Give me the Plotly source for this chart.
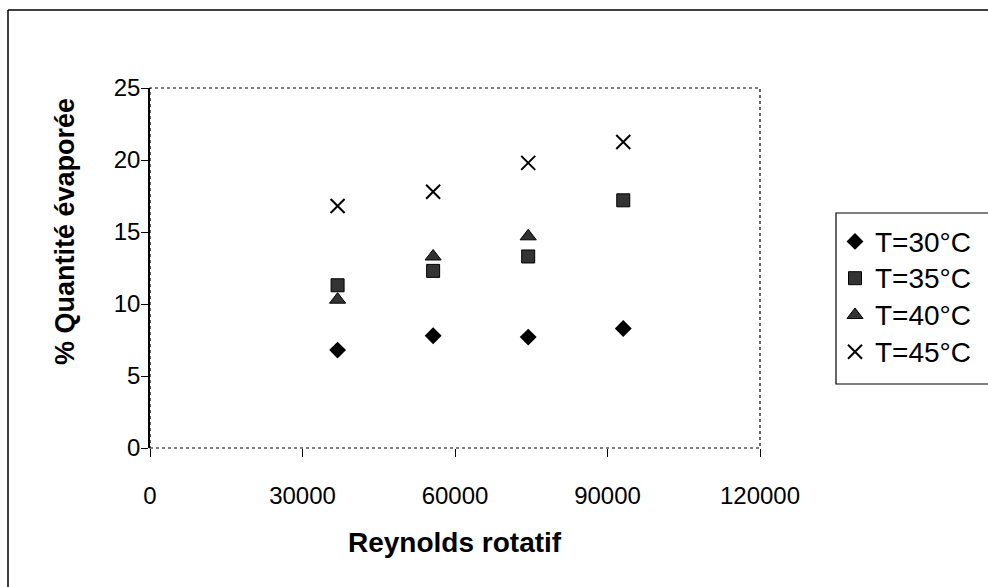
import plotly.graph_objects as go

# Rotational Reynolds number for each run
reynolds = [36900, 55700, 74400, 93100]

# Percentage of evaporated quantity per temperature
t30 = [6.8, 7.8, 7.7, 8.3]
t35 = [11.3, 12.3, 13.3, 17.2]
t40 = [10.3, 13.3, 14.7, None]
t45 = [16.8, 17.8, 19.8, 21.25]

series_names = ["T=30°C", "T=35°C", "T=40°C", "T=45°C"]

x_ticks = [0, 30000, 60000, 90000, 120000]
y_ticks = [0, 5, 10, 15, 20, 25]

FONT = "Liberation Sans, Arial, sans-serif"
W, H = 988, 587
L, R, T, B = 150, 228, 88, 139


def px_x(px):
    return (px - L) / (W - L - R)


def px_y(py):
    return (H - B - py) / (H - T - B)


fig = go.Figure()

styles = [
    dict(symbol="diamond", size=13, color="black", line=dict(color="black", width=0)),
    dict(symbol="square", size=13, color="#333333", line=dict(color="black", width=1)),
    dict(symbol="triangle-up", size=14, color="#333333", line=dict(color="black", width=1)),
    dict(symbol="x-thin-open", size=14, color="black", line=dict(color="black", width=2)),
]

for name, vals, st in zip(series_names, [t30, t35, t40, t45], styles):
    fig.add_trace(go.Scatter(
        x=reynolds, y=vals, mode="markers",
        name='<span style="font-size:28px">' + name + "</span>",
        marker=st,
    ))

# Outer chart frame and plot-area border
shapes = [
    dict(type="line", xref="paper", yref="paper",
         x0=px_x(8), x1=px_x(1000), y0=px_y(10), y1=px_y(10),
         line=dict(color="black", width=1.5)),
    dict(type="line", xref="paper", yref="paper",
         x0=px_x(8), x1=px_x(8), y0=px_y(10), y1=px_y(600),
         line=dict(color="black", width=1.5)),
    dict(type="rect", xref="paper", yref="paper", x0=0, x1=1, y0=0, y1=1,
         line=dict(color="black", width=1.2, dash="dot")),
    # legend box
    dict(type="rect", xref="paper", yref="paper",
         x0=px_x(836), x1=px_x(1005), y0=px_y(384), y1=px_y(213),
         line=dict(color="black", width=1.2), fillcolor="rgba(0,0,0,0)"),
]

annotations = [
    dict(text="<b>Reynolds rotatif</b>", xref="paper", yref="paper",
         x=0.5, y=px_y(542), xanchor="center", yanchor="middle",
         showarrow=False, font=dict(family=FONT, size=28, color="black")),
    dict(text="<b>% Quantité évaporée</b>", xref="paper", yref="paper",
         x=px_x(65), y=px_y(232), xanchor="center", yanchor="middle",
         textangle=-90, showarrow=False,
         font=dict(family=FONT, size=27, color="black")),
]

fig.update_layout(
    width=W, height=H,
    margin=dict(l=L, r=R, t=T, b=B, autoexpand=False),
    paper_bgcolor="white", plot_bgcolor="white",
    font=dict(family=FONT, size=22, color="black"),
    showlegend=True,
    legend=dict(x=px_x(835), y=px_y(218), xanchor="left", yanchor="top",
                bgcolor="rgba(0,0,0,0)", borderwidth=0,
                font=dict(family=FONT, size=26, color="black"),
                itemsizing="trace", tracegroupgap=0),
    shapes=shapes,
    annotations=annotations,
)

fig.update_xaxes(range=[0, 120000], tickvals=x_ticks, tickformat="d",
                 showgrid=False, zeroline=False, showline=False,
                 ticks="outside", ticklen=8, tickcolor="black", tickwidth=1,
                 ticklabelstandoff=18,
                 tickfont=dict(family=FONT, size=24, color="black"))
fig.update_yaxes(range=[0, 25], tickvals=y_ticks,
                 showgrid=False, zeroline=False, showline=True,
                 linecolor="black", linewidth=1.5,
                 ticks="outside", ticklen=7, tickcolor="black", tickwidth=1,
                 ticklabelstandoff=-4,
                 tickfont=dict(family=FONT, size=24, color="black"))

fig.write_html("out.html")
